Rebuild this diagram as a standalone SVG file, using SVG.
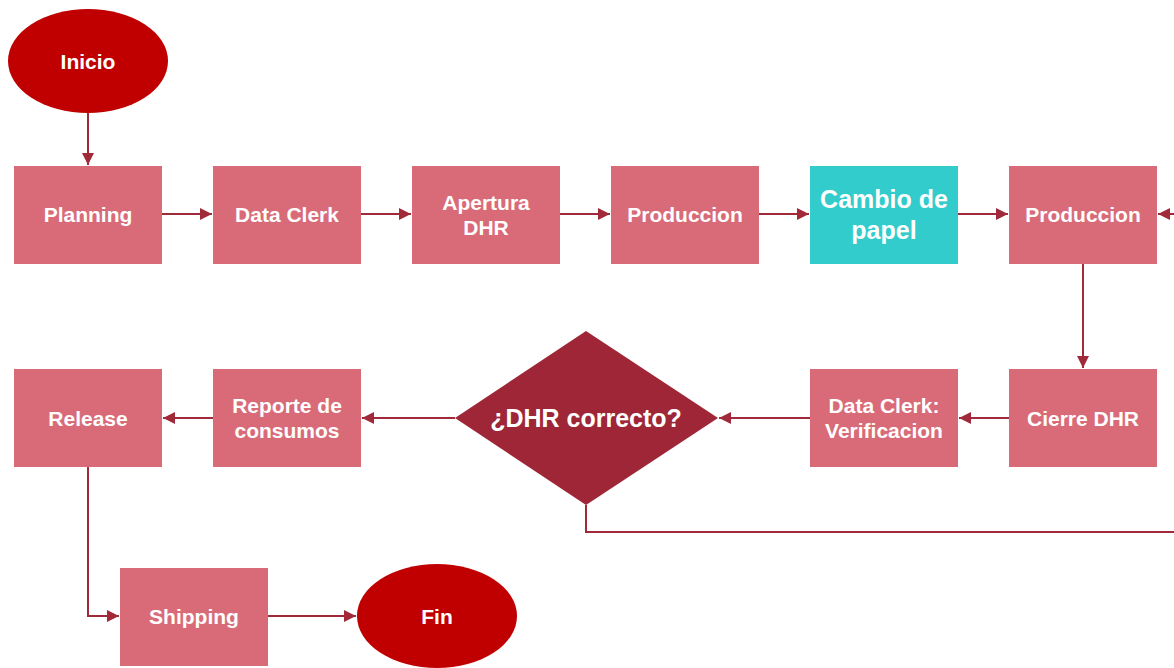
<svg xmlns="http://www.w3.org/2000/svg" width="1174" height="668" viewBox="0 0 1174 668">
<defs>
<style>
.box{fill:#D96B78;}
.term{fill:#C00000;}
.dec{fill:#9E2636;}
.alt{fill:#33CCCC;}
.t{font-family:"Liberation Sans",Arial,sans-serif;font-weight:bold;fill:#fff;text-anchor:middle;dominant-baseline:central;font-size:21px;}
.tl{font-size:25px;}
.c{fill:none;stroke:#A02A3A;stroke-width:2;}
</style>
<marker id="ah" viewBox="0 0 12 12" refX="12" refY="6" markerWidth="12" markerHeight="12" markerUnits="userSpaceOnUse" orient="auto">
<path d="M0,0 L12,6 L0,12 Z" fill="#A02A3A"/>
</marker>
</defs>
<rect width="1174" height="668" fill="#fff"/>
<g id="connectors">
<path class="c" d="M88,113 V165" marker-end="url(#ah)"/>
<path class="c" d="M162,214 H212" marker-end="url(#ah)"/>
<path class="c" d="M361,214 H411" marker-end="url(#ah)"/>
<path class="c" d="M560,214 H610" marker-end="url(#ah)"/>
<path class="c" d="M759,214 H809" marker-end="url(#ah)"/>
<path class="c" d="M958,214 H1008" marker-end="url(#ah)"/>
<path class="c" d="M1184,214 H1158" marker-end="url(#ah)"/>
<path class="c" d="M1083,264 V368" marker-end="url(#ah)"/>
<path class="c" d="M1009,418 H959" marker-end="url(#ah)"/>
<path class="c" d="M810,418 H719" marker-end="url(#ah)"/>
<path class="c" d="M455,418 H362" marker-end="url(#ah)"/>
<path class="c" d="M213,418 H163" marker-end="url(#ah)"/>
<path class="c" d="M586,505 V532 H1184"/>
<path class="c" d="M88,467 V616 H119" marker-end="url(#ah)"/>
<path class="c" d="M268,616 H356" marker-end="url(#ah)"/>
</g>
<g id="inicio"><ellipse class="term" cx="88" cy="61" rx="80" ry="52"/><text class="t" x="88" y="61">Inicio</text></g>
<g id="planning"><rect class="box" x="14" y="166" width="148" height="98"/><text class="t" x="88" y="214">Planning</text></g>
<g id="dataclerk"><rect class="box" x="213" y="166" width="148" height="98"/><text class="t" x="287" y="214">Data Clerk</text></g>
<g id="apertura"><rect class="box" x="412" y="166" width="148" height="98"/><text class="t" x="486" y="202">Apertura</text><text class="t" x="486" y="227">DHR</text></g>
<g id="produccion1"><rect class="box" x="611" y="166" width="148" height="98"/><text class="t" x="685" y="214">Produccion</text></g>
<g id="cambio"><rect class="alt" x="810" y="166" width="148" height="98"/><text class="t tl" x="884" y="199">Cambio de</text><text class="t tl" x="884" y="230">papel</text></g>
<g id="produccion2"><rect class="box" x="1009" y="166" width="148" height="98"/><text class="t" x="1083" y="214">Produccion</text></g>
<g id="cierre"><rect class="box" x="1009" y="369" width="148" height="98"/><text class="t" x="1083" y="418">Cierre DHR</text></g>
<g id="verificacion"><rect class="box" x="810" y="369" width="148" height="98"/><text class="t" x="884" y="405">Data Clerk:</text><text class="t" x="884" y="430">Verificacion</text></g>
<g id="decision"><polygon class="dec" points="586,331 718,418 586,505 455,418"/><text class="t tl" x="586" y="418">¿DHR correcto?</text></g>
<g id="reporte"><rect class="box" x="213" y="369" width="148" height="98"/><text class="t" x="287" y="405">Reporte de</text><text class="t" x="287" y="430">consumos</text></g>
<g id="release"><rect class="box" x="14" y="369" width="148" height="98"/><text class="t" x="88" y="418">Release</text></g>
<g id="shipping"><rect class="box" x="120" y="568" width="148" height="98"/><text class="t" x="194" y="616">Shipping</text></g>
<g id="fin"><ellipse class="term" cx="437" cy="616" rx="80" ry="52"/><text class="t" x="437" y="616">Fin</text></g>
</svg>
